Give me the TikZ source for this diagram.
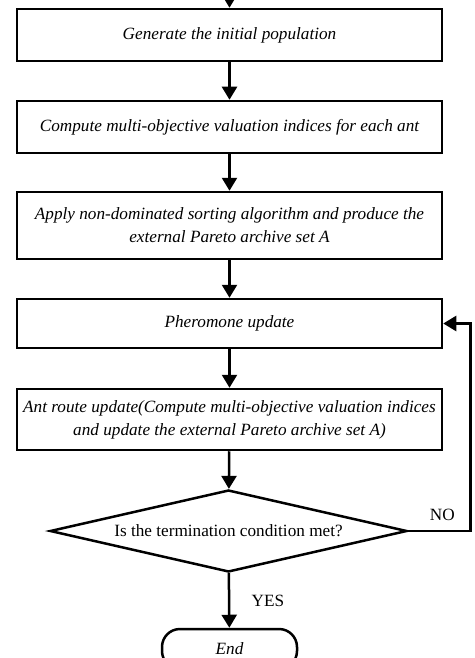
\documentclass[tikz,border=0pt]{standalone}
\usepackage{fontspec}
\setmainfont{Liberation Serif}
\usetikzlibrary{shapes.geometric,arrows.meta}

\begin{document}
\begin{tikzpicture}[x=1pt, y=-1pt, line width=2.5pt,
        stepbox/.style={rectangle, draw, minimum width=425pt, inner sep=2pt, align=center, font=\fontsize{17.2}{23}\selectfont\itshape},
        decision/.style={diamond, draw, minimum width=357pt, minimum height=82pt, aspect=4.35, inner sep=0pt, font=\fontsize{17.2}{20}\selectfont},
        terminal/.style={rectangle, rounded corners=18pt, draw, minimum width=135pt, minimum height=40pt, font=\fontsize{17.2}{20}\selectfont\itshape},
        label/.style={font=\fontsize{17.2}{20}\selectfont},
        arrow/.style={-{Triangle[length=13pt, width=15pt]}}
    ]
        \clip (0,0) rectangle (474,658);

        \coordinate (start) at (229.5,-5);
        \node[stepbox, minimum height=52pt] (gen) at (229.5,35) {Generate the initial population};
        \node[stepbox, minimum height=52pt] (eval) at (229.5,127) {Compute multi-objective valuation indices for each ant};
        \node[stepbox, minimum height=67pt] (sort) at (229.5,225.5) {Apply non-dominated sorting algorithm and produce the\\external Pareto archive set A};
        \node[stepbox, minimum height=49pt] (pher) at (229.5,323.5) {Pheromone update};
        \node[stepbox, minimum height=61pt] (route) at (229.5,419.5) {Ant route update(Compute multi-objective valuation indices\\and update the external Pareto archive set A)};
        \node[decision] (check) at (228.5,531) {Is the termination condition met?};
        \node[terminal] (finish) at (229.5,649) {End};

        \draw[arrow] (start) -- (gen);
        \draw[arrow] (gen) -- (eval);
        \draw[arrow] (eval) -- (sort);
        \draw[arrow] (sort) -- (pher);
        \draw[arrow] (pher) -- (route);
        \draw[arrow] (route) -- (check);
        \draw[arrow] (check) -- node[label, right=18pt] {YES} (finish);
        \draw[arrow] (check.east) -- node[label, above=6pt, pos=0.55] {NO} ++(62,0) |- (pher.east);
    \end{tikzpicture}
\end{document}
